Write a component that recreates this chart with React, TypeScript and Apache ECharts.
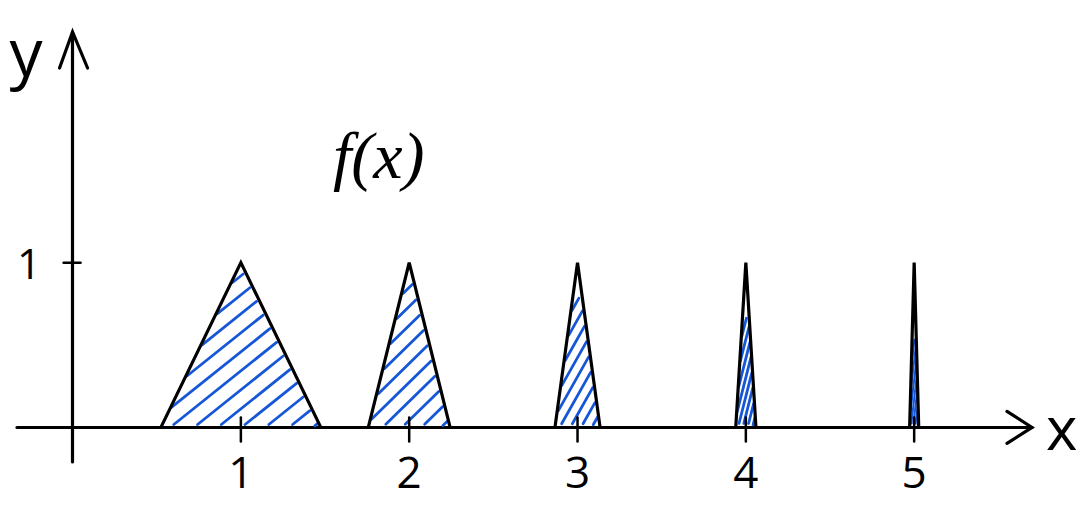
import React, { useEffect, useRef } from "react";
import * as echarts from "echarts";

// ---- data ----
const peakCenters = [1, 2, 3, 4, 5];
const peakHalfWidths = [0.475, 0.243, 0.134, 0.06, 0.027];
const peakHeights = [1, 1, 1, 1, 1];
const xTickValues = [1, 2, 3, 4, 5];
const xTickLabels = ["1", "2", "3", "4", "5"];
const yTickValues = [1];
const yTickLabels = ["1"];
const curveLabel = "f(x)";
const xAxisName = "x";
const yAxisName = "y";

// ---- axis ranges ----
const X_MIN = -0.33;
const X_MAX = 5.7;
const Y_MIN = -0.21;
const Y_MAX = 2.4;

// ---- styling ----
const BLUE = "#1657d8";
const HATCH_REACH = [0.95, 0.88, 0.8, 0.68, 0.55];
const FONT = "'Open Sans', 'DejaVu Sans', sans-serif";

type Pt = [number, number];

function clipSegment(p0: Pt, p1: Pt, poly: Pt[]): [Pt, Pt] | null {
  const cx = poly.reduce((s, p) => s + p[0], 0) / poly.length;
  const cy = poly.reduce((s, p) => s + p[1], 0) / poly.length;
  const d: Pt = [p1[0] - p0[0], p1[1] - p0[1]];
  let tmin = 0;
  let tmax = 1;
  for (let i = 0; i < poly.length; i++) {
    const a = poly[i];
    const b = poly[(i + 1) % poly.length];
    let n: Pt = [-(b[1] - a[1]), b[0] - a[0]];
    if (n[0] * (cx - a[0]) + n[1] * (cy - a[1]) < 0) n = [-n[0], -n[1]];
    const num = n[0] * (p0[0] - a[0]) + n[1] * (p0[1] - a[1]);
    const den = n[0] * d[0] + n[1] * d[1];
    if (Math.abs(den) < 1e-9) {
      if (num < 0) return null;
      continue;
    }
    const t = -num / den;
    if (den > 0) tmin = Math.max(tmin, t);
    else tmax = Math.min(tmax, t);
    if (tmin > tmax) return null;
  }
  return [
    [p0[0] + d[0] * tmin, p0[1] + d[1] * tmin],
    [p0[0] + d[0] * tmax, p0[1] + d[1] * tmax],
  ];
}

function renderPeak(params: any, api: any) {
  const c = api.value(0);
  const hw = api.value(1);
  const h = api.value(2);
  const A = api.coord([c, h]) as Pt;
  const L = api.coord([c - hw, 0]) as Pt;
  const R = api.coord([c + hw, 0]) as Pt;
  const by = L[1];
  const i = params.dataIndex;
  const reach = HATCH_REACH[i] ?? 0.8;
  const topY = by - (by - A[1]) * reach;
  const hwpx = (R[0] - L[0]) / 2;
  const s = Math.max(0.8, 40 / Math.max(hwpx, 1));
  const tL = (by - topY) / (by - A[1]);
  const poly: Pt[] = [
    [L[0], by - 1],
    [L[0] + (A[0] - L[0]) * tL, topY],
    [R[0] + (A[0] - R[0]) * tL, topY],
    [R[0], by - 1],
  ];
  const children: any[] = [];
  const step = 19;
  const lw = hwpx < 8 ? 2 : 2.8;
  for (let b = topY + 5; b <= by + s * hwpx; b += step) {
    const p0: Pt = [A[0] - 300, b + 300 * s];
    const p1: Pt = [A[0] + 300, b - 300 * s];
    const seg = clipSegment(p0, p1, poly);
    if (!seg) continue;
    let [q0, q1] = seg;
    const len = Math.hypot(q1[0] - q0[0], q1[1] - q0[1]);
    if (len < 2) continue;
    const cut = Math.min(3, len * 0.15);
    const ux = (q1[0] - q0[0]) / len;
    const uy = (q1[1] - q0[1]) / len;
    q0 = [q0[0] + ux * cut, q0[1] + uy * cut];
    q1 = [q1[0] - ux * cut, q1[1] - uy * cut];
    children.push({
      type: "line",
      shape: { x1: q0[0], y1: q0[1], x2: q1[0], y2: q1[1] },
      style: { stroke: BLUE, lineWidth: lw, lineCap: "round" },
    });
  }
  children.push({
    type: "polyline",
    shape: { points: [L, A, R] },
    style: { stroke: "#000", lineWidth: 3.2, fill: null, lineJoin: "miter" },
  });
  return { type: "group", children };
}

function renderAxisMarks(_params: any, api: any) {
  const children: any[] = [];
  const xTip = api.coord([X_MAX, 0]) as Pt;
  const yTip = api.coord([0, Y_MAX]) as Pt;
  children.push({
    type: "polyline",
    shape: {
      points: [
        [xTip[0] - 25, xTip[1] - 16],
        [xTip[0], xTip[1]],
        [xTip[0] - 25, xTip[1] + 16],
      ],
    },
    style: { stroke: "#000", lineWidth: 3.2, fill: null, lineCap: "round" },
  });
  children.push({
    type: "polyline",
    shape: {
      points: [
        [yTip[0] - 13, yTip[1] + 36],
        [yTip[0], yTip[1]],
        [yTip[0] + 15, yTip[1] + 36],
      ],
    },
    style: { stroke: "#000", lineWidth: 3.2, fill: null, lineCap: "round" },
  });
  xTickValues.forEach((v) => {
    const p = api.coord([v, 0]) as Pt;
    children.push({
      type: "line",
      shape: { x1: p[0], y1: p[1] - 10, x2: p[0], y2: p[1] + 14 },
      style: { stroke: "#000", lineWidth: 2.5, lineCap: "round" },
    });
  });
  yTickValues.forEach((v) => {
    const p = api.coord([0, v]) as Pt;
    children.push({
      type: "line",
      shape: { x1: p[0] - 9, y1: p[1], x2: p[0] + 8, y2: p[1] },
      style: { stroke: "#000", lineWidth: 2.5, lineCap: "round" },
    });
  });
  return { type: "group", children };
}

export default function App() {
  const ref = useRef<HTMLDivElement>(null);
  useEffect(() => {
    if (!ref.current) return;
    const chart = echarts.init(ref.current, undefined, { renderer: "svg" });
    chart.setOption({
      animation: false,
      backgroundColor: "#ffffff",
      grid: {
        left: 17,
        right: 46,
        top: 32,
        bottom: 53,
        containLabel: false,
        outerBoundsMode: "none",
      },
      xAxis: {
        type: "value",
        min: X_MIN,
        max: X_MAX,
        name: xAxisName,
        nameLocation: "end",
        nameGap: 14,
        nameTextStyle: {
          fontFamily: FONT,
          fontSize: 60,
          color: "#000",
          verticalAlign: "middle",
          padding: [10, 0, 0, 0],
        },
        axisLine: { show: true, onZero: true, lineStyle: { color: "#000", width: 3.2 } },
        axisTick: { show: false },
        splitLine: { show: false },
        axisLabel: {
          customValues: xTickValues,
          formatter: (v: number) => xTickLabels[xTickValues.indexOf(v)] ?? "",
          fontFamily: FONT,
          fontSize: 44,
          color: "#000",
          margin: -13,
        },
      },
      yAxis: {
        type: "value",
        min: Y_MIN,
        max: Y_MAX,
        name: yAxisName,
        nameLocation: "end",
        nameGap: -18,
        nameTextStyle: {
          fontFamily: FONT,
          fontSize: 66,
          color: "#000",
          align: "right",
          verticalAlign: "middle",
          padding: [0, 30, 0, 0],
        },
        axisLine: { show: true, onZero: true, lineStyle: { color: "#000", width: 3.2 } },
        axisTick: { show: false },
        splitLine: { show: false },
        axisLabel: {
          customValues: yTickValues,
          formatter: (v: number) => yTickLabels[yTickValues.indexOf(v)] ?? "",
          fontFamily: FONT,
          fontSize: 42,
          color: "#000",
          margin: -24,
        },
      },
      graphic: [
        {
          type: "text",
          left: 333,
          top: 122,
          style: {
            text: curveLabel,
            font: "italic 66px 'Liberation Serif', serif",
            fill: "#000",
          },
        },
      ],
      series: [
        {
          type: "custom",
          name: "f(x)",
          clip: false,
          renderItem: renderPeak,
          data: peakCenters.map((c, i) => [c, peakHalfWidths[i], peakHeights[i]]),
          encode: { x: 0, y: 2 },
          z: 3,
        },
        {
          type: "custom",
          name: "axes",
          clip: false,
          silent: true,
          renderItem: renderAxisMarks,
          data: [[0, 0]],
          z: 4,
        },
      ],
    });
    return () => chart.dispose();
  }, []);
  return (
    <div
      ref={ref}
      style={{ position: "fixed", left: 0, top: 0, width: 1078, height: 515 }}
    />
  );
}
